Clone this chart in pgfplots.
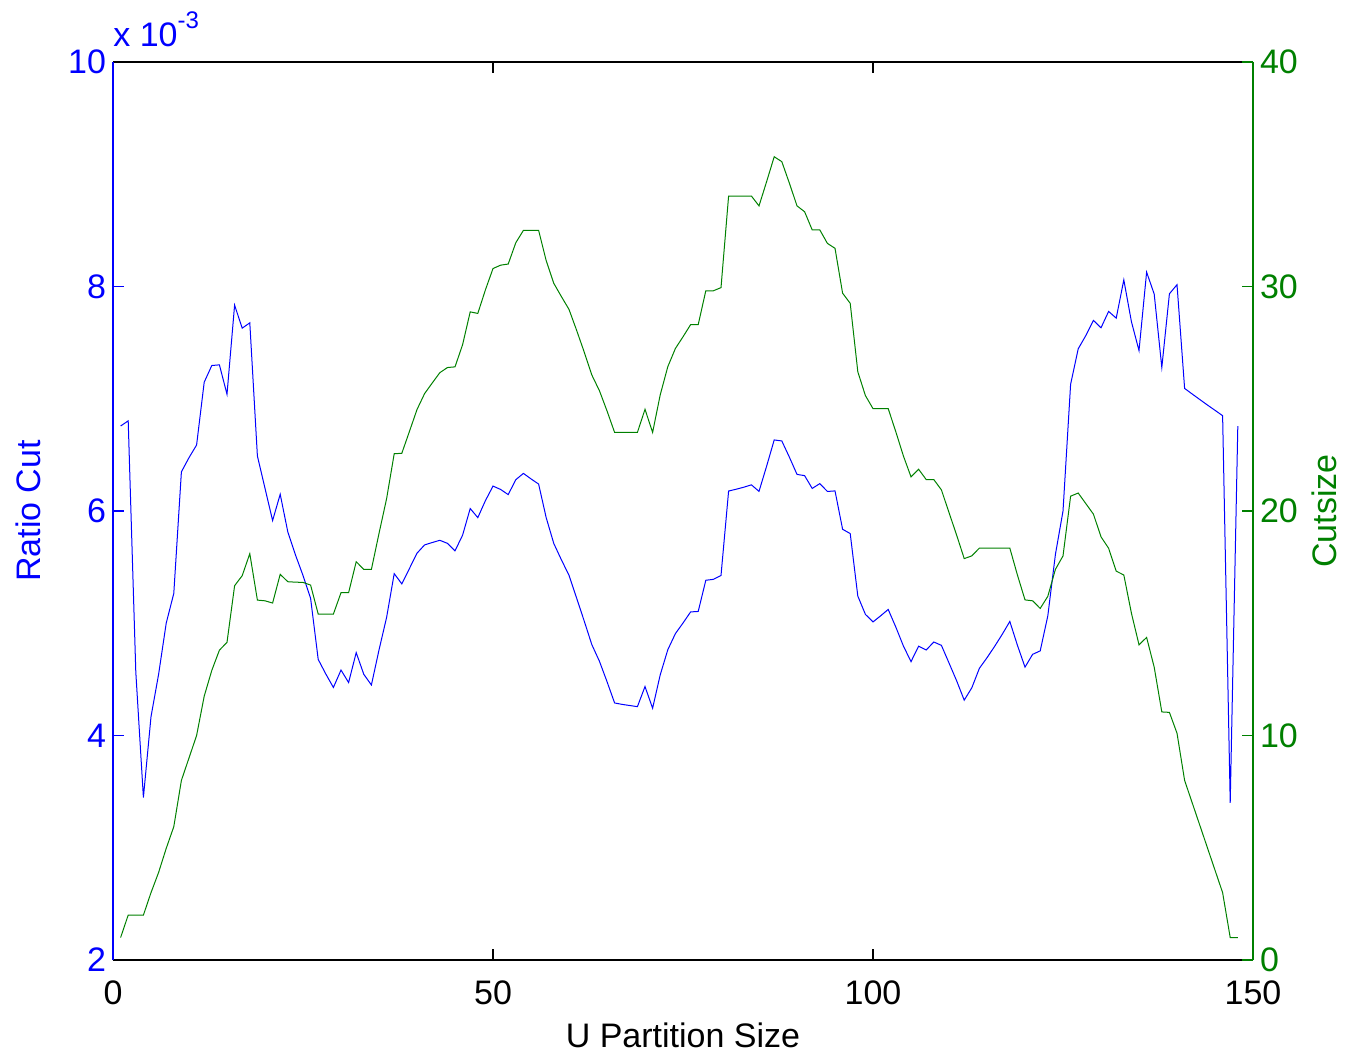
\documentclass[border=0pt]{standalone}
\usepackage{fontspec}
\setmainfont{Liberation Sans}
\usepackage{pgfplots}
\usepackage{pgfplotstable}
\pgfplotsset{compat=1.18}
\definecolor{mblue}{rgb}{0,0,1}
\definecolor{mgreen}{rgb}{0,0.5,0}
\newcommand{\lbl}{\fontsize{17}{20}\selectfont}

\pgfplotstableread{
x ratio cut
1 6.757 1.00
2 6.803 2.00
3 4.566 2.00
4 3.448 2.00
5 4.167 3.00
6 4.545 3.90
7 5.000 4.97
8 5.266 5.94
9 6.349 8.00
10 6.475 9.00
11 6.588 10.00
12 7.147 11.75
13 7.296 12.90
14 7.302 13.80
15 7.040 14.15
16 7.834 16.67
17 7.629 17.12
18 7.676 18.10
19 6.490 16.03
20 6.202 16.00
21 5.915 15.90
22 6.149 17.18
23 5.814 16.85
24 5.610 16.83
25 5.426 16.82
26 5.222 16.70
27 4.678 15.41
28 4.548 15.41
29 4.428 15.41
30 4.583 16.36
31 4.472 16.36
32 4.738 17.74
33 4.545 17.40
34 4.450 17.40
35 4.762 19.00
36 5.052 20.55
37 5.442 22.55
38 5.351 22.57
39 5.487 23.54
40 5.624 24.52
41 5.698 25.23
42 5.719 25.70
43 5.739 26.16
44 5.712 26.39
45 5.645 26.42
46 5.785 27.41
47 6.022 28.87
48 5.941 28.80
49 6.092 29.85
50 6.222 30.80
51 6.192 30.95
52 6.146 31.00
53 6.279 31.95
54 6.335 32.50
55 6.286 32.50
56 6.240 32.50
57 5.940 31.15
58 5.710 30.14
59 5.565 29.55
60 5.427 28.98
61 5.225 28.05
62 5.020 27.08
63 4.810 26.06
64 4.662 25.36
65 4.480 24.46
66 4.290 23.50
67 4.277 23.50
68 4.267 23.50
69 4.257 23.50
70 4.436 24.53
71 4.243 23.50
72 4.540 25.17
73 4.764 26.43
74 4.908 27.24
75 5.002 27.76
76 5.101 28.30
77 5.105 28.30
78 5.383 29.81
79 5.391 29.81
80 5.426 29.95
81 6.178 34.03
82 6.194 34.03
83 6.212 34.03
84 6.233 34.03
85 6.175 33.59
86 6.399 34.67
87 6.633 35.78
88 6.624 35.56
89 6.479 34.60
90 6.326 33.59
91 6.315 33.33
92 6.201 32.52
93 6.244 32.52
94 6.174 31.92
95 6.179 31.70
96 5.837 29.70
97 5.799 29.25
98 5.242 26.20
99 5.079 25.14
100 5.012 24.56
101 5.066 24.56
102 5.123 24.56
103 4.966 23.53
104 4.797 22.45
105 4.658 21.52
106 4.796 21.86
107 4.762 21.40
108 4.833 21.40
109 4.803 20.94
110 4.646 19.93
111 4.488 18.93
112 4.315 17.88
113 4.425 18.00
114 4.599 18.35
115 4.693 18.35
116 4.794 18.35
117 4.901 18.35
118 5.016 18.35
119 4.804 17.15
120 4.609 16.04
121 4.723 16.00
122 4.754 15.66
123 5.066 16.20
124 5.613 17.40
125 6.000 18.00
126 7.129 20.66
127 7.445 20.80
128 7.563 20.33
129 7.698 19.86
130 7.632 18.85
131 7.778 18.34
132 7.718 17.32
133 8.059 17.15
134 7.687 15.45
135 7.429 14.04
136 8.128 14.37
137 7.932 13.04
138 7.279 11.05
139 7.935 11.03
140 8.016 10.10
141 7.092 8.00
142 7.042 7.00
143 6.993 6.00
144 6.944 5.00
145 6.897 4.00
146 6.849 3.00
147 3.401 1.00
148 6.757 1.00
}\data

\begin{document}
\begin{tikzpicture}
\begin{axis}[name=ax1, scale only axis, width=570pt, height=449pt,
  xmin=0, xmax=150, ymin=2, ymax=10,
  axis x line*=box, axis y line*=left,
  xtick={0,50,100,150}, ytick={2,4,6,8,10},
  xtick pos=both,
  tick align=inside, major tick length=5.5pt,
  x axis line style={black, line width=0.6pt},
  y axis line style={mblue, line width=0.6pt},
  y tick style={mblue, line width=0.6pt},
  x tick style={black, line width=0.6pt},
  yticklabel style={text=mblue, font=\lbl},
  xticklabel style={font=\lbl, yshift=-7pt},
  /pgf/number format/assume math mode=true,
  xlabel={U Partition Size}, ylabel={Ratio Cut},
  xlabel style={font=\lbl, yshift=-2pt},
  ylabel style={font=\lbl, text=mblue},
  ylabel shift=7pt,
  scaled y ticks=false,
  clip mode=individual,
]
\addplot[mblue, line width=0.5pt] table[x=x,y=ratio]{\data};
\node[anchor=base west, inner sep=0pt, font=\lbl, text=mblue] at (rel axis cs:0,1) [yshift=7.5pt] {x 10\raisebox{0.55em}{\fontsize{12}{12}\selectfont -3}};
\end{axis}
\begin{axis}[scale only axis, width=570pt, height=449pt,
  xmin=0, xmax=150, ymin=0, ymax=40,
  axis y line*=right, axis x line=none,
  ytick={0,10,20,30,40},
  tick align=inside, major tick length=5.5pt,
  y axis line style={mgreen, line width=0.6pt},
  y tick style={mgreen, line width=0.6pt},
  yticklabel style={text=mgreen, font=\lbl},
  /pgf/number format/assume math mode=true,
  ylabel={Cutsize},
  ylabel style={font=\lbl, text=mgreen},
]
\addplot[mgreen, line width=0.5pt] table[x=x,y=cut]{\data};
\end{axis}
\pgfresetboundingbox
\path ([shift={(-56.5pt,-47pt)}]ax1.south west) rectangle ([shift={(46.5pt,31pt)}]ax1.north east);
\end{tikzpicture}
\end{document}
